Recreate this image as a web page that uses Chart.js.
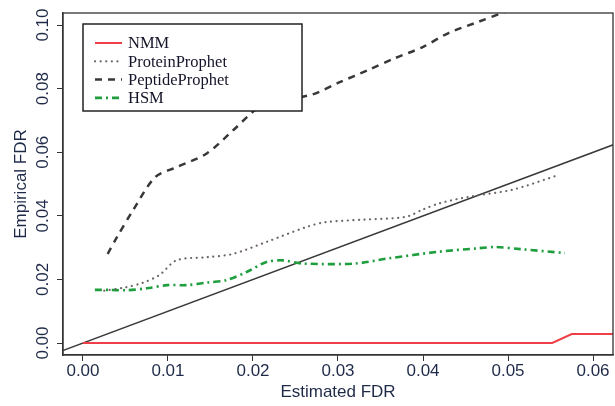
<!DOCTYPE html>
<html>
<head>
<meta charset="utf-8">
<script src="https://cdn.jsdelivr.net/npm/chart.js@4.4.1/dist/chart.umd.min.js"></script>
<style>
  body { margin: 0; background: #fff; }
  #wrap { width: 615px; height: 406px; }
</style>
</head>
<body>
<div id="wrap"><canvas id="fdrChart" width="615" height="406"></canvas></div>
<script>
// 讀圖估計的數值
const xTicks = [0, 0.01, 0.02, 0.03, 0.04, 0.05, 0.06];
const yTicks = [0, 0.02, 0.04, 0.06, 0.08, 0.10];
const xRange = [-0.00235, 0.06235];
const yRange = [-0.00377, 0.1038];

const nmmX = [0, 0.0552, 0.0575, 0.0640];
const nmmY = [0, 0, 0.0028, 0.0028];

const proteinX = [0.0025, 0.0050, 0.0071, 0.0090, 0.0110, 0.0146, 0.0176, 0.0216, 0.0263, 0.0285, 0.0330, 0.0380, 0.0400, 0.0420, 0.0458, 0.0505, 0.0559];
const proteinY = [0.0165, 0.0175, 0.0190, 0.0214, 0.0260, 0.0270, 0.0280, 0.0318, 0.0365, 0.0380, 0.0388, 0.0397, 0.0420, 0.0440, 0.0462, 0.0482, 0.0528];

const peptideX = [0.0029, 0.0040, 0.0059, 0.0085, 0.0110, 0.0146, 0.0177, 0.0210, 0.0235, 0.0270, 0.0300, 0.0335, 0.0367, 0.0399, 0.0430, 0.0465, 0.0493, 0.0520];
const peptideY = [0.0280, 0.0333, 0.0418, 0.0522, 0.0553, 0.0597, 0.0670, 0.0748, 0.0764, 0.0782, 0.0818, 0.0858, 0.0896, 0.0930, 0.0975, 0.1010, 0.1038, 0.1065];

const hsmX = [0.0014, 0.0032, 0.0052, 0.0075, 0.0099, 0.0122, 0.0146, 0.0169, 0.0193, 0.0216, 0.0235, 0.0259, 0.0320, 0.0359, 0.0418, 0.0465, 0.0485, 0.0516, 0.0567];
const hsmY = [0.0167, 0.0167, 0.0166, 0.0172, 0.0182, 0.0182, 0.0190, 0.0198, 0.0224, 0.0255, 0.0260, 0.0250, 0.0250, 0.0266, 0.0287, 0.0298, 0.0302, 0.0295, 0.0283];

// y = x 參考線
const diagX = [-0.01, 0.07];
const diagY = [-0.01, 0.07];

const navy = "#1e2a48";

function pts(xs, ys) {
  return xs.map((x, i) => ({ x: x, y: ys[i] }));
}

// 外框
const boxPlugin = {
  id: "box",
  afterDatasetsDraw(chart) {
    const a = chart.chartArea;
    const ctx = chart.ctx;
    ctx.save();
    ctx.strokeStyle = "#333";
    ctx.lineWidth = 1.3;
    ctx.strokeRect(a.left, a.top, a.right - a.left, a.bottom - a.top);
    ctx.restore();
  }
};

// 圖內圖例 (R 風格)
const legendPlugin = {
  id: "rLegend",
  afterDraw(chart) {
    const ctx = chart.ctx;
    ctx.save();
    ctx.fillStyle = "#fff";
    ctx.fillRect(83, 24, 219, 87);
    ctx.strokeStyle = "#222";
    ctx.lineWidth = 1.5;
    ctx.strokeRect(83, 24, 219, 87);
    ctx.font = "16.5px 'Liberation Serif'";
    ctx.textBaseline = "middle";
    let row = 0;
    chart.data.datasets.forEach(ds => {
      if (!ds.label) return;
      const y = 43 + row * 18.3;
      ctx.strokeStyle = ds.borderColor;
      ctx.lineWidth = ds.borderWidth;
      ctx.setLineDash(ds.borderDash || []);
      ctx.lineCap = ds.borderCapStyle || "butt";
      ctx.beginPath();
      ctx.moveTo(95, y);
      ctx.lineTo(122, y);
      ctx.stroke();
      ctx.setLineDash([]);
      ctx.fillStyle = "#15152a";
      ctx.fillText(ds.label, 128, y + 1);
      row++;
    });
    ctx.restore();
  }
};

const ctx = document.getElementById("fdrChart").getContext("2d");
new Chart(ctx, {
  type: "scatter",
  data: {
    datasets: [
      { label: "NMM", data: pts(nmmX, nmmY), borderColor: "#ef4048", borderWidth: 2 },
      { label: "ProteinProphet", data: pts(proteinX, proteinY), borderColor: "#6e6666", borderWidth: 2.2,
        borderDash: [0.1, 5.5], borderCapStyle: "round", tension: 0.3 },
      { label: "PeptideProphet", data: pts(peptideX, peptideY), borderColor: "#383838", borderWidth: 2.5,
        borderDash: [7, 6], tension: 0.3 },
      { label: "HSM", data: pts(hsmX, hsmY), borderColor: "#1f9e3e", borderWidth: 2.6,
        borderDash: [7, 4, 2, 4], tension: 0.3 },
      { label: "", data: pts(diagX, diagY), borderColor: "#3a3a3a", borderWidth: 1.6 }
    ].map(d => Object.assign({ showLine: true, pointRadius: 0, fill: false }, d))
  },
  options: {
    responsive: false,
    animation: false,
    layout: { padding: { top: 13, right: 2, left: 0, bottom: 0 } },
    plugins: { legend: { display: false }, tooltip: { enabled: false } },
    scales: {
      x: {
        type: "linear",
        min: xRange[0],
        max: xRange[1],
        afterFit: s => { s.height = 51; },
        afterBuildTicks: s => { s.ticks = xTicks.map(v => ({ value: v })); },
        grid: { drawOnChartArea: false, drawTicks: true, tickLength: 6, color: "#333" },
        border: { display: true, color: "#333", width: 1.3 },
        ticks: {
          autoSkip: false, maxRotation: 0, padding: 0, color: navy,
          font: { family: "'Liberation Sans', Arial", size: 17 },
          callback: v => v.toFixed(2)
        },
        title: {
          display: true, text: "Estimated FDR", color: navy,
          font: { family: "'Liberation Sans', Arial", size: 17 },
          padding: { top: 0, bottom: 3 }
        }
      },
      y: {
        type: "linear",
        min: yRange[0],
        max: yRange[1],
        afterFit: s => { s.width = 63; },
        afterBuildTicks: s => { s.ticks = yTicks.map(v => ({ value: v })); },
        grid: { drawOnChartArea: false, drawTicks: true, tickLength: 6, color: "#333" },
        border: { display: true, color: "#333", width: 1.3 },
        ticks: {
          autoSkip: false, minRotation: 90, maxRotation: 90, crossAlign: "center", padding: -3,
          color: navy,
          font: { family: "'Liberation Sans', Arial", size: 17 },
          callback: v => v.toFixed(2)
        },
        title: {
          display: true, text: "Empirical FDR", color: navy,
          font: { family: "'Liberation Sans', Arial", size: 17 },
          padding: { top: 11, bottom: 0 }
        }
      }
    }
  },
  plugins: [boxPlugin, legendPlugin]
});
</script>
</body>
</html>
